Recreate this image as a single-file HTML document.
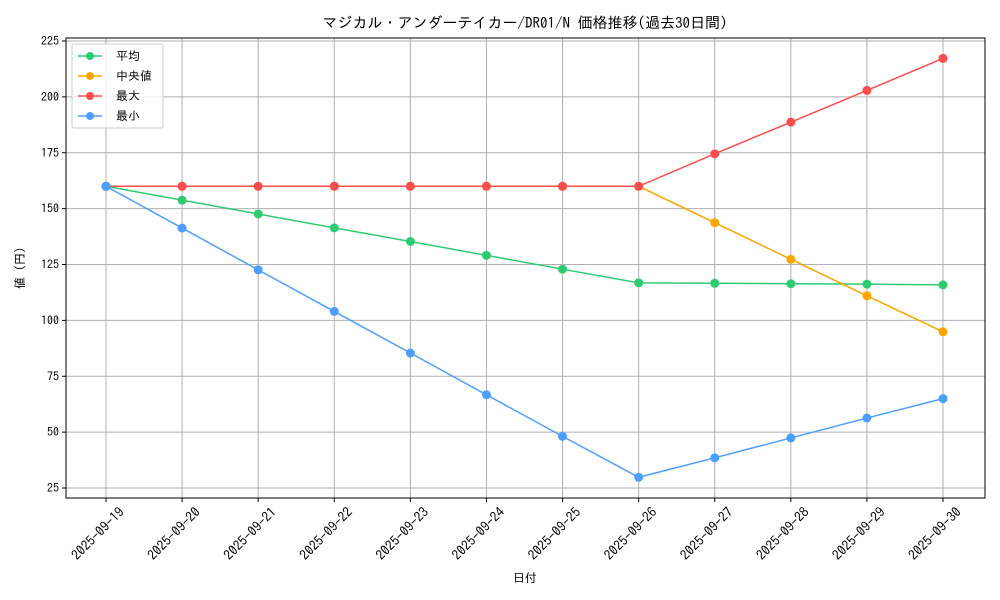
<!DOCTYPE html>
<html><head><meta charset="utf-8"><style>body{margin:0;background:#fff}svg{display:block}text{font-family:"IPAGothic","Noto Sans CJK JP",monospace;fill:#000}</style></head><body>
<svg width="1000" height="600" viewBox="0 0 1000 600" xmlns="http://www.w3.org/2000/svg">
<text x="525" y="28" font-size="15" text-anchor="middle">マジカル・アンダーテイカー/DR01/N 価格推移(過去30日間)</text>
<g id="grid" stroke="#b0b0b0" stroke-width="1"></g>
<rect x="66" y="38" width="919" height="460" fill="none" stroke="#000" stroke-width="1"/>
<g id="ticks" font-size="12"></g>
<text x="525" y="582" font-size="12" text-anchor="middle">日付</text>
<text transform="translate(24,268) rotate(-90)" font-size="12" text-anchor="middle">値 (円)</text>
<g id="series"></g>
<g>
<rect x="72" y="44" width="91" height="84" fill="#fff" fill-opacity="0.8" stroke="#ccc" rx="2"/>
<line x1="78" y1="56" x2="102" y2="56" stroke="#2ecc71" stroke-width="1.5"/><circle cx="90" cy="56" r="4" fill="#2ecc71"/><text x="116" y="60" font-size="12">平均</text>
<line x1="78" y1="76" x2="102" y2="76" stroke="#ffa500" stroke-width="1.5"/><circle cx="90" cy="76" r="4" fill="#ffa500"/><text x="116" y="80" font-size="12">中央値</text>
<line x1="78" y1="96" x2="102" y2="96" stroke="#ff4d4d" stroke-width="1.5"/><circle cx="90" cy="96" r="4" fill="#ff4d4d"/><text x="116" y="100" font-size="12">最大</text>
<line x1="78" y1="116" x2="102" y2="116" stroke="#4d9fff" stroke-width="1.5"/><circle cx="90" cy="116" r="4" fill="#4d9fff"/><text x="116" y="120" font-size="12">最小</text>
</g>
</svg>
<script>
const NS="http://www.w3.org/2000/svg";
const X=i=>106+i*837/11, Y=v=>488-(v-25)*2.235;
const g=document.getElementById('grid'),t=document.getElementById('ticks'),s=document.getElementById('series');
function el(p,n,a,txt){const e=document.createElementNS(NS,n);for(const k in a)e.setAttribute(k,a[k]);if(txt)e.textContent=txt;p.appendChild(e);return e;}
for(let v=25;v<=225;v+=25){const y=Y(v);el(g,'line',{x1:66,x2:985,y1:y,y2:y});el(t,'line',{x1:62,x2:66,y1:y,y2:y,stroke:'#000'});el(t,'text',{x:59,y:y+4,'text-anchor':'end'},String(v));}
for(let i=0;i<12;i++){const x=X(i);el(g,'line',{x1:x,x2:x,y1:38,y2:498});el(t,'line',{x1:x,x2:x,y1:498,y2:502,stroke:'#000'});
const d=19+i;el(t,'text',{transform:`translate(${x+19},${513}) rotate(-45)`,'text-anchor':'end','font-size':13.5},`2025-09-${d}`);}
const data=[["#2ecc71",[160,153.8,147.6,141.4,135.3,129.1,122.9,116.8,116.6,116.4,116.2,115.9]],
["#ffa500",[160,160,160,160,160,160,160,160,143.7,127.3,111,94.9]],
["#ff4d4d",[160,160,160,160,160,160,160,160,174.5,188.7,202.9,217.2]],
["#4d9fff",[160,141.3,122.6,104,85.4,66.7,48.1,29.8,38.5,47.4,56.3,65]]];
for(const [c,v] of data){el(s,'polyline',{points:v.map((a,i)=>X(i)+','+Y(a)).join(' '),fill:'none',stroke:c,'stroke-width':1.5});
v.forEach((a,i)=>el(s,'circle',{cx:X(i),cy:Y(a),r:4.5,fill:c}));}
</script>
</body></html>
